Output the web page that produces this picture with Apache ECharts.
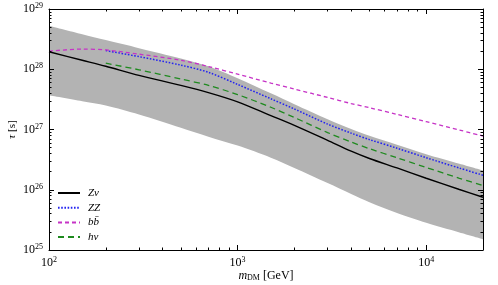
<!DOCTYPE html>
<html><head><meta charset="utf-8">
<script src="https://cdn.jsdelivr.net/npm/echarts@6/dist/echarts.min.js"></script>
<style>html,body{margin:0;padding:0;background:#fff}#c{width:498px;height:285px}</style>
</head><body><div id="c"></div><script>
// ---- data ----
const mass      = [100, 150, 200, 300, 500, 700, 1000, 1500, 2000, 3000, 4000, 5000, 7000, 10000, 15000, 20000];
const tauZnu    = [1.95e28, 1.41e28, 1.12e28, 7.9e27, 5.4e27, 4.1e27, 2.88e27, 1.7e27, 1.17e27, 6.6e26, 4.37e26, 3.3e26, 2.3e26, 1.55e26, 1.01e26, 7.5e25];
const tauZZ     = [null, null, 2.04e28, 1.62e28, 1.17e28, 8.9e27, 5.6e27, 3.24e27, 2.19e27, 1.23e27, 8.7e26, 6.8e26, 4.9e26, 3.4e26, 2.29e26, 1.74e26];
const tauBB     = [2.0e28, 2.16e28, 2.09e28, 1.78e28, 1.41e28, 1.11e28, 8.3e27, 5.9e27, 4.7e27, 3.4e27, 2.7e27, 2.3e27, 1.78e27, 1.35e27, 9.8e26, 7.8e26];
const tauHnu    = [null, null, 1.26e28, 9.8e27, 6.9e27, 5.4e27, 3.8e27, 2.34e27, 1.58e27, 8.9e26, 6.2e26, 4.8e26, 3.4e26, 2.34e26, 1.55e26, 1.17e26];
const bandUpper = [5.25e28, 3.8e28, 3.05e28, 2.24e28, 1.51e28, 1.12e28, 7.1e27, 3.98e27, 2.63e27, 1.48e27, 1.02e27, 7.9e26, 5.6e26, 3.9e26, 2.7e26, 2.09e26];
const bandLower = [3.7e27, 2.95e27, 2.51e27, 1.78e27, 1.07e27, 7.6e26, 5.4e26, 3.4e26, 2.3e26, 1.29e26, 8.5e25, 6.2e25, 4.1e25, 2.82e25, 1.95e25, 1.51e25];
const seriesNames = ['Z\u03bd', 'ZZ', 'bb\u0304', 'h\u03bd'];
const xMajorTicks = [100, 1000, 10000];
const xMinorTicks = [200, 300, 400, 500, 600, 700, 800, 900, 2000, 3000, 4000, 5000, 6000, 7000, 8000, 9000];
const yMajorTicks = [1e25, 1e26, 1e27, 1e28, 1e29];
const yMinorTicks = [2e25,3e25,4e25,5e25,6e25,7e25,8e25,9e25, 2e26,3e26,4e26,5e26,6e26,7e26,8e26,9e26,
                     2e27,3e27,4e27,5e27,6e27,7e27,8e27,9e27, 2e28,3e28,4e28,5e28,6e28,7e28,8e28,9e28];
const xMin = 100, xMax = 20000, yMin = 1e25, yMax = 1e29;

// log10 scale helpers (axes are linear in decades)
const L = Math.log10;
const SERIF = '"Liberation Serif", "DejaVu Serif", serif';
const pairs = (ys) => mass.map((m, i) => [L(m), ys[i] == null ? null : L(ys[i])]).filter(p => p[1] != null);
const powLabel = (v) => Math.abs(v - Math.round(v)) > 1e-6 ? '' : '{b|10}{e|' + Math.round(v) + '}';
const labelRich = {
  b: { fontFamily: SERIF, fontSize: 12, color: '#000', lineHeight: 14 },
  e: { fontFamily: SERIF, fontSize: 8, color: '#000', verticalAlign: 'top', lineHeight: 9 }
};
const axisLine = { show: true, onZero: false, lineStyle: { color: '#000', width: 1 } };
const tickLine = { color: '#000', width: 1 };

function xAx(pos, minor, main) {
  const o = {
    type: 'value', gridIndex: 0, position: pos, min: L(xMin), max: L(xMax), interval: 1, z: 10,
    axisLine: minor ? { show: false } : axisLine,
    axisTick: minor ? { show: true, inside: true, length: 2.5, customValues: xMinorTicks.map(L), lineStyle: tickLine }
                    : { show: true, inside: true, length: 5, customValues: xMajorTicks.map(L), lineStyle: tickLine },
    axisLabel: main ? { show: true, margin: 6, showMaxLabel: false, formatter: powLabel, rich: labelRich } : { show: false },
    splitLine: { show: false }, minorTick: { show: false }
  };
  if (main) {
    o.name = '{i|m}{s|DM} [GeV]';
    o.nameLocation = 'middle'; o.nameGap = 20; o.nameMoveOverlap = false;
    o.nameTextStyle = { fontFamily: SERIF, fontSize: 12, color: '#000',
      rich: { i: { fontFamily: SERIF, fontStyle: 'italic', fontSize: 12 }, s: { fontFamily: SERIF, fontSize: 8, verticalAlign: 'bottom' } } };
  }
  return o;
}
function yAx(pos, minor, main) {
  const o = {
    type: 'value', gridIndex: 0, position: pos, min: L(yMin), max: L(yMax), interval: 1, z: 10,
    axisLine: minor ? { show: false } : axisLine,
    axisTick: minor ? { show: true, inside: true, length: 2.5, customValues: yMinorTicks.map(L), lineStyle: tickLine }
                    : { show: true, inside: true, length: 5, lineStyle: tickLine },
    axisLabel: main ? { show: true, margin: 6, formatter: powLabel, rich: labelRich } : { show: false },
    splitLine: { show: false }, minorTick: { show: false }
  };
  if (main) {
    o.name = '{i|\u03c4} [s]';
    o.nameLocation = 'middle'; o.nameGap = 31; o.nameRotate = 90; o.nameMoveOverlap = false;
    o.nameTextStyle = { fontFamily: SERIF, fontSize: 11, color: '#000',
      rich: { i: { fontFamily: SERIF, fontStyle: 'italic', fontSize: 11 } } };
  }
  return o;
}

const lineDefs = [
  { name: seriesNames[0], data: tauZnu, color: '#000000', type: 'solid', width: 1.4 },
  { name: seriesNames[1], data: tauZZ,  color: '#2424f0', type: [1.6, 1.6], width: 1.5 },
  { name: seriesNames[2], data: tauBB,  color: '#c633c6', type: [4, 3], width: 1.3 },
  { name: seriesNames[3], data: tauHnu, color: '#1f8a1f', type: [6, 4], width: 1.3 }
];
const SMOOTH = 0.3;

const chart = echarts.init(document.getElementById('c'), null, { renderer: 'canvas' });
chart.setOption({
  animation: false,
  backgroundColor: '#fff',
  grid: { left: 49, top: 9, width: 434, height: 241, containLabel: false, outerBoundsMode: 'none' },
  xAxis: [xAx('bottom', false, true), xAx('bottom', true, false), xAx('top', false, false), xAx('top', true, false)],
  yAxis: [yAx('left', false, true), yAx('left', true, false), yAx('right', false, false), yAx('right', true, false)],
  legend: {
    show: true, orient: 'vertical', left: 57, top: 187, padding: 0,
    itemWidth: 22, itemHeight: 10, itemGap: 2.7,
    data: seriesNames,
    itemStyle: { opacity: 0 },
    textStyle: { fontFamily: SERIF, fontStyle: 'italic', fontSize: 11, color: '#000', lineHeight: 12, padding: [0, 0, 0, 3] }
  },
  series: [
    { type: 'line', name: 'bandUpper', z: 1, silent: true, data: pairs(bandUpper), smooth: SMOOTH, symbol: 'none',
      lineStyle: { width: 0 }, areaStyle: { color: '#b3b3b3', opacity: 1, origin: 'start' } },
    { type: 'line', name: 'bandLower', z: 1, silent: true, data: pairs(bandLower), smooth: SMOOTH, symbol: 'none',
      lineStyle: { width: 0 }, areaStyle: { color: '#ffffff', opacity: 1, origin: 'start' } }
  ].concat(lineDefs.map((d, k) => ({
    type: 'line', name: d.name, xAxisIndex: 0, yAxisIndex: 0, z: 3 + k,
    data: pairs(d.data), smooth: SMOOTH, symbol: 'none', showSymbol: false,
    lineStyle: { color: d.color, width: d.width, type: d.type },
    itemStyle: { color: d.color }
  })))
});
</script></body></html>
